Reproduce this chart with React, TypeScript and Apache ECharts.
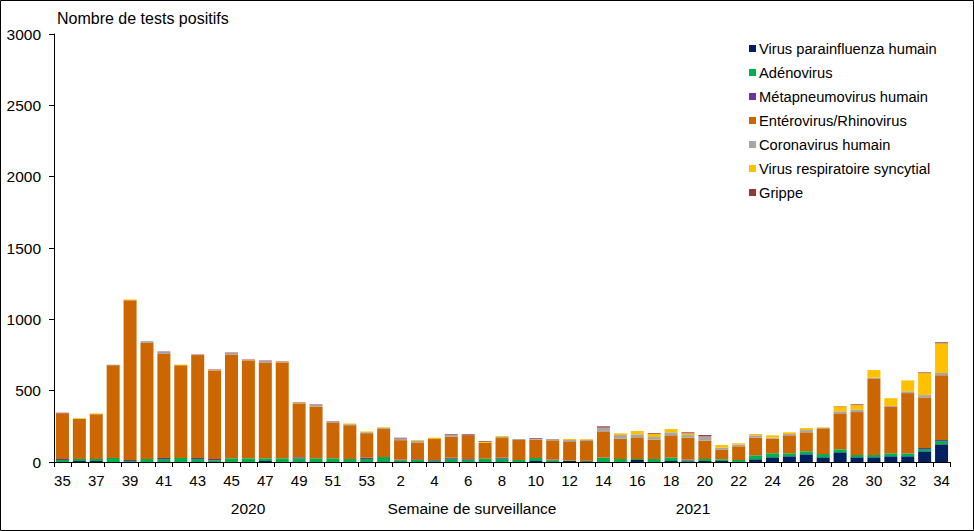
import React, { useEffect, useRef } from "react";
import * as echarts from "echarts";

const weeks = [
  "35","36","37","38","39","40","41","42","43","44","45","46","47","48","49","50","51","52","53",
  "1","2","3","4","5","6","7","8","9","10","11","12","13","14","15","16","17","18","19","20",
  "21","22","23","24","25","26","27","28","29","30","31","32","33","34",
];

const parainfluenza = [
  0,7,7,0,0,0,0,0,0,0,0,0,7,0,0,0,0,0,0,
  0,0,0,0,0,0,0,0,0,7,0,7,5,0,0,14,0,7,5,7,
  7,0,19,33,40,54,33,68,33,33,40,40,75,124,
];
const adenovirus = [
  14,14,14,28,7,21,21,28,21,12,26,26,19,26,26,26,26,21,21,
  35,12,14,9,23,16,23,23,14,21,12,3,3,30,21,7,21,23,7,14,
  12,14,28,28,21,21,23,21,16,16,21,19,16,23,
];
const metapneumo = [
  7,0,0,0,7,0,7,0,7,9,0,0,0,0,7,0,0,0,9,
  0,5,5,5,7,5,0,7,0,0,5,0,0,0,0,0,0,0,5,0,
  0,0,0,0,0,0,0,0,0,0,0,2,7,7,
];
const enterovirus = [
  319,281,314,645,1120,814,729,650,720,619,727,684,671,670,376,363,248,237,172,
  196,136,118,147,147,164,112,138,140,128,135,135,139,185,142,152,135,157,153,129,
  69,96,124,103,126,133,180,252,301,533,325,422,355,454,
];
const coronavirus = [
  0,0,0,0,0,12,12,0,0,0,9,0,9,0,0,9,5,7,7,
  7,12,12,0,12,0,0,7,7,7,9,9,9,26,26,21,19,21,19,30,
  12,12,12,7,9,16,4,14,16,9,7,12,16,16,
];
const vrs = [
  0,5,5,3,5,0,0,5,0,3,0,3,0,3,3,0,0,5,5,
  5,0,5,9,0,0,7,7,0,0,0,7,5,0,12,23,23,23,12,0,
  19,9,9,16,12,14,3,35,33,54,54,77,154,208,
];
const grippe = [
  5,0,0,5,0,0,5,0,5,5,5,5,5,5,5,5,5,0,0,
  0,5,0,0,5,9,5,0,0,5,0,0,0,9,0,0,5,0,7,9,
  0,0,2,0,0,0,0,2,5,0,0,0,5,7,
];

const seriesDefs = [
  { name: "Virus parainfluenza humain", data: parainfluenza, color: "#002060" },
  { name: "Adénovirus", data: adenovirus, color: "#00B050" },
  { name: "Métapneumovirus humain", data: metapneumo, color: "#7030A0" },
  { name: "Entérovirus/Rhinovirus", data: enterovirus, color: "#CC6600" },
  { name: "Coronavirus humain", data: coronavirus, color: "#A6A6A6" },
  { name: "Virus respiratoire syncytial", data: vrs, color: "#FFC000" },
  { name: "Grippe", data: grippe, color: "#953735" },
];

const yTicks = { min: 0, max: 3000, interval: 500 };

export default function App() {
  const ref = useRef<HTMLDivElement>(null);
  useEffect(() => {
    if (!ref.current) return;
    const chart = echarts.init(ref.current, null, { renderer: "svg" });
    const font = "'Liberation Sans', Arial, sans-serif";
    chart.setOption({
      animation: false,
      backgroundColor: "#ffffff",
      textStyle: { fontFamily: font },
      grid: { left: 54, right: 24, top: 34, bottom: 69, containLabel: false },
      legend: {
        orient: "vertical",
        left: 744,
        top: 36,
        itemWidth: 7,
        itemHeight: 7,
        itemGap: 9,
        icon: "rect",
        textStyle: { fontSize: 14.7, color: "#000", fontFamily: font, padding: [0, 0, 0, -2] },
        data: seriesDefs.map((s) => s.name),
      },
      xAxis: {
        type: "category",
        data: weeks,
        boundaryGap: true,
        axisLine: { lineStyle: { color: "#000", width: 1 } },
        axisTick: { show: true, interval: 0, length: 5, lineStyle: { color: "#000" } },
        axisLabel: { interval: 1, color: "#000", fontSize: 15, margin: 11, fontFamily: font },
      },
      yAxis: {
        type: "value",
        min: yTicks.min,
        max: yTicks.max,
        interval: yTicks.interval,
        splitLine: { show: false },
        axisLine: { show: true, lineStyle: { color: "#000", width: 1 } },
        axisTick: { show: true, length: 5, lineStyle: { color: "#000" } },
        axisLabel: {
          color: "#000",
          fontSize: 15.5,
          margin: 13,
          fontFamily: font,
          formatter: (v: number) => String(v),
        },
      },
      series: seriesDefs.map((s) => ({
        name: s.name,
        type: "bar",
        stack: "total",
        data: s.data,
        barWidth: 13,
        itemStyle: { color: s.color },
      })),
      graphic: [
        {
          type: "rect",
          shape: { x: 0.5, y: 0.5, width: 973, height: 530 },
          style: { fill: "none", stroke: "#000", lineWidth: 1 },
          silent: true,
        },
        {
          type: "text",
          left: 57,
          top: 10,
          style: { text: "Nombre de tests positifs", fontSize: 16, fill: "#000", fontFamily: font },
        },
        {
          type: "text",
          x: 248,
          y: 508,
          style: { text: "2020", fontSize: 15.5, fill: "#000", fontFamily: font, align: "center", verticalAlign: "middle" },
        },
        {
          type: "text",
          x: 472,
          y: 508,
          style: { text: "Semaine de surveillance", fontSize: 15.5, fill: "#000", fontFamily: font, align: "center", verticalAlign: "middle" },
        },
        {
          type: "text",
          x: 693,
          y: 508,
          style: { text: "2021", fontSize: 15.5, fill: "#000", fontFamily: font, align: "center", verticalAlign: "middle" },
        },
      ],
    });
    return () => chart.dispose();
  }, []);
  return (
    <div
      ref={ref}
      style={{ position: "fixed", left: 0, top: 0, width: 974, height: 531 }}
    />
  );
}
